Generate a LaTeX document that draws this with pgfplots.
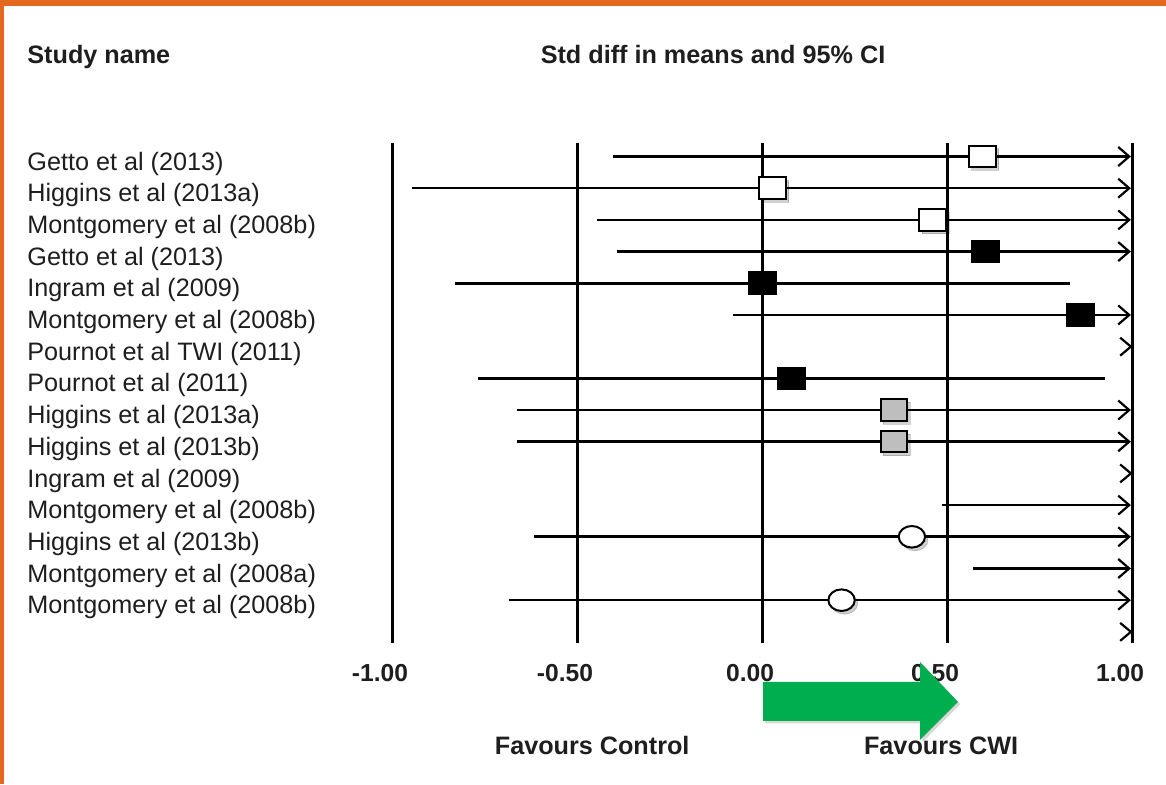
\documentclass[border=0pt]{standalone}
\usepackage{pgfplots}
\pgfplotsset{compat=1.18}
\usepackage{fontspec}
\setmainfont{Liberation Sans}
\usetikzlibrary{arrows.meta,shadows}
\definecolor{cwigreen}{HTML}{00AE4F}
\definecolor{frameorange}{HTML}{E4681E}
\definecolor{markgrey}{HTML}{BEBEBE}
\definecolor{txt}{HTML}{1E1E1E}
\tikzset{
  ci/.style={line width=1.3pt, black, mark=none},
  cia/.style={ci, -{Straight Barb[length=5.5pt,width=9.5pt,line width=1.1pt]}},
  barb/.style={line width=1.1pt, black, mark=none},
  lab/.style={anchor=base west, inner sep=0pt, text=txt},
}
\begin{document}
\begin{tikzpicture}[font=\fontsize{12.6}{15}\selectfont]
\begin{axis}[
  scale only axis, width=583pt, height=392pt,
  xmin=-2.0595, xmax=1.0919, ymin=-3.938, ymax=20.801, y dir=reverse,
  hide axis, clip=false,
]
% background and frame
\fill[white] (axis cs:-2.0595,-3.938) rectangle (axis cs:1.0919,20.801);
\fill[frameorange] (axis cs:-2.0595,-3.938) rectangle (axis cs:1.0919,-3.749);
\fill[frameorange] (axis cs:-2.0595,-3.938) rectangle (axis cs:-2.0486,20.801);

% reference lines
\addplot[line width=1.5pt, black, mark=none] coordinates {(-1,0.574) (-1,16.35)};
\addplot[line width=1.5pt, black, mark=none] coordinates {(-0.5,0.574) (-0.5,16.35)};
\addplot[line width=1.5pt, black, mark=none] coordinates {(0,0.574) (0,16.35)};
\addplot[line width=1.5pt, black, mark=none] coordinates {(0.5,0.574) (0.5,16.35)};
\addplot[line width=1.5pt, black, mark=none] coordinates {(1,0.574) (1,16.35)};

% confidence intervals
\addplot[cia] coordinates {(-0.403,1) (0.997,1)};
\addplot[cia] coordinates {(-0.946,2) (0.997,2)};
\addplot[cia] coordinates {(-0.446,3) (0.997,3)};
\addplot[cia] coordinates {(-0.392,4) (0.997,4)};
\addplot[ci]  coordinates {(-0.830,5) (0.832,5)};
\addplot[cia] coordinates {(-0.078,6) (0.997,6)};
\addplot[barb] coordinates {(0.968,6.716) (0.997,7) (0.968,7.284)};
\addplot[ci]  coordinates {(-0.768,8) (0.927,8)};
\addplot[cia] coordinates {(-0.662,9) (0.997,9)};
\addplot[cia] coordinates {(-0.662,10) (0.997,10)};
\addplot[barb] coordinates {(0.968,10.716) (0.997,11) (0.968,11.284)};
\addplot[cia] coordinates {(0.486,12) (0.997,12)};
\addplot[cia] coordinates {(-0.616,13) (0.997,13)};
\addplot[cia] coordinates {(0.571,14) (0.997,14)};
\addplot[cia] coordinates {(-0.684,15) (0.997,15)};
\addplot[barb] coordinates {(0.968,15.716) (0.997,16) (0.968,16.284)};

% soft shadows under the markers
\addplot[only marks, mark=square*, mark size=5.4pt,
  mark options={xscale=1.25, xshift=1.2pt, yshift=-1.6pt, fill=black, draw=none, opacity=0.18}]
  coordinates {(0.595,1) (0.027,2) (0.462,3) (0.356,9) (0.356,10)};
\addplot[only marks, mark=*, mark size=5.4pt,
  mark options={xscale=1.22, xshift=1.2pt, yshift=-1.6pt, fill=black, draw=none, opacity=0.18}]
  coordinates {(0.405,13) (0.215,15)};

% point estimates
\addplot[only marks, mark=square*, mark size=5.4pt,
  mark options={xscale=1.25, fill=white, draw=black, line width=1pt}]
  coordinates {(0.595,1) (0.027,2) (0.462,3)};
\addplot[only marks, mark=square*, mark size=5.4pt,
  mark options={xscale=1.25, fill=black, draw=black, line width=1pt}]
  coordinates {(0.605,4) (0.000,5) (0.860,6) (0.080,8)};
\addplot[only marks, mark=square*, mark size=5.3pt,
  mark options={xscale=1.22, fill=markgrey, draw=black, line width=1pt}]
  coordinates {(0.356,9) (0.356,10)};
\addplot[only marks, mark=*, mark size=5.4pt,
  mark options={xscale=1.22, fill=white, draw=black, line width=1pt}]
  coordinates {(0.405,13) (0.215,15)};

% headers
\node[lab, font=\fontsize{12.6}{15}\selectfont\bfseries] at (axis cs:-1.9865,-1.95) {Study name};
\node[anchor=base, inner sep=0pt, text=txt, font=\fontsize{12.6}{15}\selectfont\bfseries] at (axis cs:-0.1324,-1.95) {Std diff in means and 95\% CI};

% study labels
\node[lab] at (axis cs:-1.9865,1.43) {Getto et al (2013)};
\node[lab] at (axis cs:-1.9865,2.43) {Higgins et al (2013a)};
\node[lab] at (axis cs:-1.9865,3.43) {Montgomery et al (2008b)};
\node[lab] at (axis cs:-1.9865,4.43) {Getto et al (2013)};
\node[lab] at (axis cs:-1.9865,5.43) {Ingram et al (2009)};
\node[lab] at (axis cs:-1.9865,6.43) {Montgomery et al (2008b)};
\node[lab] at (axis cs:-1.9865,7.43) {Pournot et al TWI (2011)};
\node[lab] at (axis cs:-1.9865,8.43) {Pournot et al (2011)};
\node[lab] at (axis cs:-1.9865,9.43) {Higgins et al (2013a)};
\node[lab] at (axis cs:-1.9865,10.43) {Higgins et al (2013b)};
\node[lab] at (axis cs:-1.9865,11.43) {Ingram et al (2009)};
\node[lab] at (axis cs:-1.9865,12.43) {Montgomery et al (2008b)};
\node[lab] at (axis cs:-1.9865,13.43) {Higgins et al (2013b)};
\node[lab] at (axis cs:-1.9865,14.43) {Montgomery et al (2008a)};
\node[lab] at (axis cs:-1.9865,15.43) {Montgomery et al (2008b)};

% tick labels
\node[anchor=base, inner sep=0pt, text=txt, xshift=-6pt, font=\fontsize{12.3}{15}\selectfont\bfseries] at (axis cs:-1,17.58) {-1.00};
\node[anchor=base, inner sep=0pt, text=txt, xshift=-6pt, font=\fontsize{12.3}{15}\selectfont\bfseries] at (axis cs:-0.5,17.58) {-0.50};
\node[anchor=base, inner sep=0pt, text=txt, xshift=-6pt, font=\fontsize{12.3}{15}\selectfont\bfseries] at (axis cs:0,17.58) {0.00};
\node[anchor=base, inner sep=0pt, text=txt, xshift=-6pt, font=\fontsize{12.3}{15}\selectfont\bfseries] at (axis cs:0.5,17.58) {0.50};
\node[anchor=base, inner sep=0pt, text=txt, xshift=-6pt, font=\fontsize{12.3}{15}\selectfont\bfseries] at (axis cs:1,17.58) {1.00};

% favours labels
\node[anchor=base, inner sep=0pt, text=txt, font=\fontsize{12.6}{15}\selectfont\bfseries] at (axis cs:-0.459,19.88) {Favours Control};
\node[anchor=base, inner sep=0pt, text=txt, font=\fontsize{12.6}{15}\selectfont\bfseries] at (axis cs:0.484,19.88) {Favours CWI};

% green arrow
\fill[cwigreen, drop shadow={opacity=0.3, shadow xshift=1.2pt, shadow yshift=-1.2pt}]
  (axis cs:0.0027,17.58) -- (axis cs:0.427,17.58) -- (axis cs:0.427,16.95)
  -- (axis cs:0.5297,18.21) -- (axis cs:0.427,19.41) -- (axis cs:0.427,18.81)
  -- (axis cs:0.0027,18.81) -- cycle;
\end{axis}
\end{tikzpicture}
\end{document}
